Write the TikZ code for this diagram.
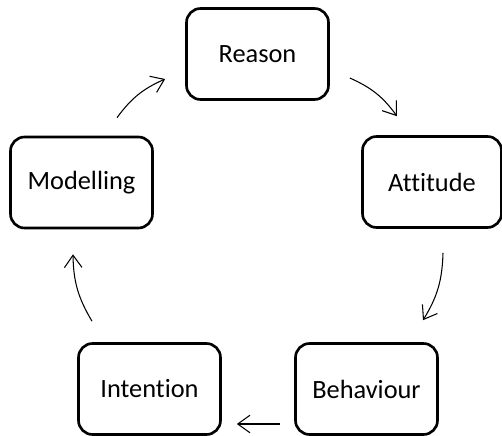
\documentclass[tikz,border=0pt]{standalone}
\usepackage{fontspec}
\setmainfont{Carlito}[Ligatures=NoCommon]
\usepackage{tikz}
\usetikzlibrary{positioning}
\usetikzlibrary{arrows.meta}
\usetikzlibrary{calc}

\begin{document}
\begin{tikzpicture}[
  stage/.style={
    rectangle,
    rounded corners=8pt,
    draw=black,
    line width=1.5pt,
    minimum width=2.84cm,
    minimum height=1.82cm,
    align=center,
    font=\fontsize{15}{18}\selectfont
  },
  arr/.style={-{Straight Barb[length=7pt,width=10pt]}, line width=0.6pt, bend left=15}
]
\useasboundingbox (0,0) rectangle (10.04,-8.72);

% Boxes
\node[stage] (reason) at (5.15, -1.08) {Reason};
\node[stage, minimum width=2.78cm] (attitude) at (8.64, -3.64) {Attitude};
\node[stage] (behaviour) at (7.33, -7.78) {Behaviour};
\node[stage] (intention) at (2.99, -7.78) {Intention};
\node[stage] (modelling) at (1.63, -3.65) {Modelling};

% Arrow ends
\coordinate (m-out) at ([shift={(0.71,0.36)}]modelling.north);
\coordinate (r-in)  at ([shift={(-0.40,-0.50)}]reason.west);
\coordinate (r-out) at ([shift={(0.40,-0.48)}]reason.east);
\coordinate (a-in)  at ([shift={(-0.70,0.38)}]attitude.north);
\coordinate (a-out) at ([shift={(0.22,-0.48)}]attitude.south);
\coordinate (b-in)  at ([shift={(1.13,0.44)}]behaviour.north);
\coordinate (b-out) at ([shift={(-0.28,-0.70)}]behaviour.west);
\coordinate (i-in)  at ([shift={(0.30,-0.70)}]intention.east);
\coordinate (i-out) at ([shift={(-1.15,0.42)}]intention.north);
\coordinate (m-in)  at ([shift={(-0.17,-0.50)}]modelling.south);

% Arrows
\draw[arr] (m-out) to (r-in);
\draw[arr] (r-out) to (a-in);
\draw[arr] (a-out) to (b-in);
\draw[arr, bend left=0] (b-out) to (i-in);
\draw[arr] (i-out) to (m-in);

\end{tikzpicture}
\end{document}
